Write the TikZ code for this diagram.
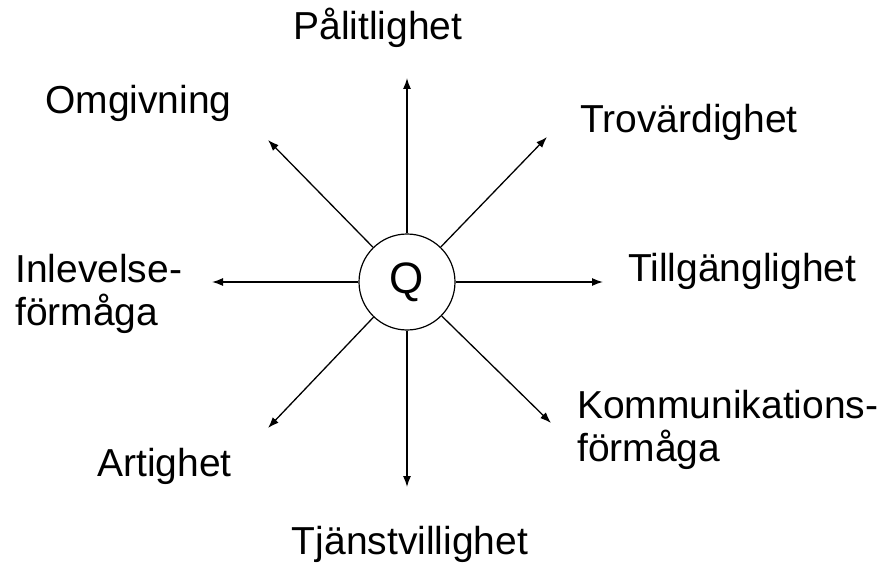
\documentclass[tikz,border=0pt]{standalone}
\usepackage{fontspec}
\setmainfont{Liberation Sans}
\usepackage{tikz}
\usetikzlibrary{arrows.meta,positioning}

\begin{document}
\begin{tikzpicture}[x=1pt, y=-1pt, every node/.style={font=\fontsize{39}{43}\selectfont, inner sep=0pt},
  lbl/.style={align=left},
  arr/.style={line width=1.3pt, -{Latex[length=11pt, width=8pt]}}]
\useasboundingbox (0,0) rectangle (880,564);
% centre
\node[draw, circle, line width=1.2pt, minimum size=96pt, font=\fontsize{44}{44}\selectfont] (q) at (407,282) {Q};
% arrow ends
\coordinate (nN) at (407,78);
\coordinate (nNE) at (547,137);
\coordinate (nE) at (603,282);
\coordinate (nSE) at (551,423);
\coordinate (nS) at (407,487);
\coordinate (nSW) at (268,428);
\coordinate (nW) at (212,282);
\coordinate (nNW) at (268,140);
\draw[arr] (q) -- (nN);
\draw[arr] (q) -- (nNE);
\draw[arr] (q) -- (nE);
\draw[arr] (q) -- (nSE);
\draw[arr] (q) -- (nS);
\draw[arr] (q) -- (nSW);
\draw[arr] (q) -- (nW);
\draw[arr] (q) -- (nNW);
% labels
\node[anchor=base] (palit) at (378,40) {Pålitlighet};
\node[anchor=base west] (trov) at (580,133) {Trovärdighet};
\node[anchor=base west] (tillg) at (628,281) {Tillgänglighet};
\node[lbl, anchor=base west] (komm) at (577,461) {Kommunikations-\\förmåga};
\node[anchor=base] (tjanst) at (410,554) {Tjänstvillighet};
\node[anchor=base west] (artig) at (97,476) {Artighet};
\node[lbl, anchor=base west] (inlev) at (15,325) {Inlevelse-\\förmåga};
\node[anchor=base west] (omgiv) at (45,114) {Omgivning};
\end{tikzpicture}
\end{document}
